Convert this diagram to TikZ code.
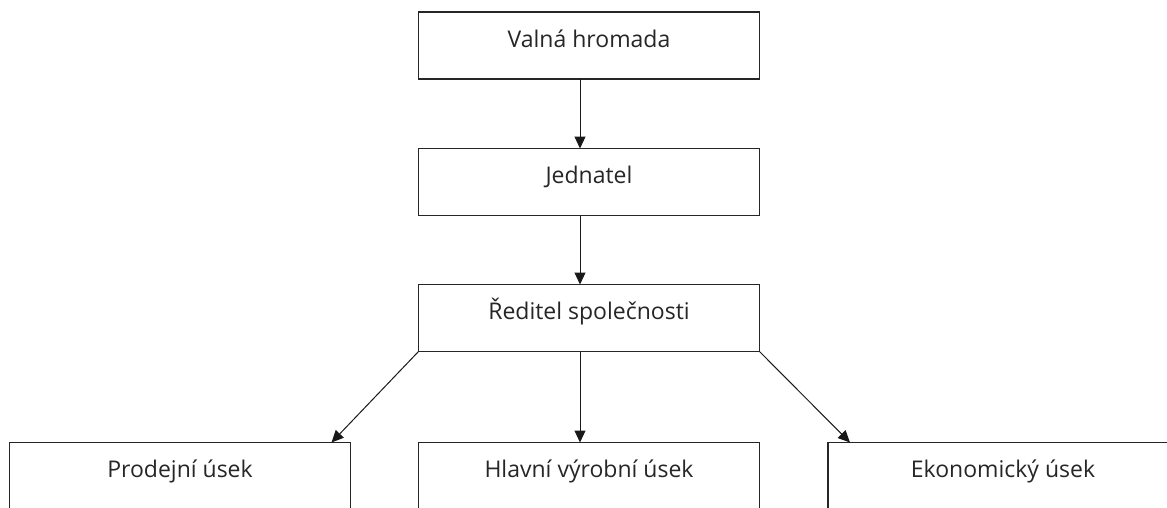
\documentclass[tikz,border=0pt]{standalone}
\usepackage{fontspec}
\setmainfont{Open Sans}
\usetikzlibrary{arrows.meta}
\tikzset{
  x=1pt, y=-1pt,
  lblshift/.store in=\lblshift, lblshift=0pt,
  orgbox/.style={draw=black!85, line width=1.3pt, minimum width=341pt, minimum height=67pt, inner sep=0pt, outer sep=0pt,
    label={[anchor=base, yshift=-35pt, xshift=\lblshift, font=\fontsize{23}{26}\selectfont, text=black!85]north:#1}},
  conn/.style={line width=1pt, draw=black!90, -{Triangle[length=12pt,width=11pt]}}
}
\begin{document}
\begin{tikzpicture}
\useasboundingbox (0,0) rectangle (1167,507);
\clip (0,0) rectangle (1167,507);
\node[orgbox={Valná hromada}] (v) at (589,45.5) {};
\node[orgbox={Jednatel}] (j) at (589,182) {};
\node[orgbox={Ředitel společnosti}] (r) at (589,318) {};
\node[orgbox={Prodejní úsek}] (p) at (180,476) {};
\node[orgbox={Hlavní výrobní úsek}] (h) at (589,476) {};
\node[lblshift=-4pt, orgbox={Ekonomický úsek}, minimum width=350pt] (e) at (1003,476) {};
\draw[conn] ([xshift=-9pt]v.south) -- ([xshift=-9pt]j.north);
\draw[conn] ([xshift=-9pt]j.south) -- ([xshift=-9pt]r.north);
\draw[conn] ([xshift=-9pt]r.south) -- ([xshift=-9pt]h.north);
\draw[conn] (r.south west) -- ([xshift=-19pt]p.north east);
\draw[conn] (r.south east) -- ([xshift=22pt]e.north west);
\end{tikzpicture}
\end{document}
